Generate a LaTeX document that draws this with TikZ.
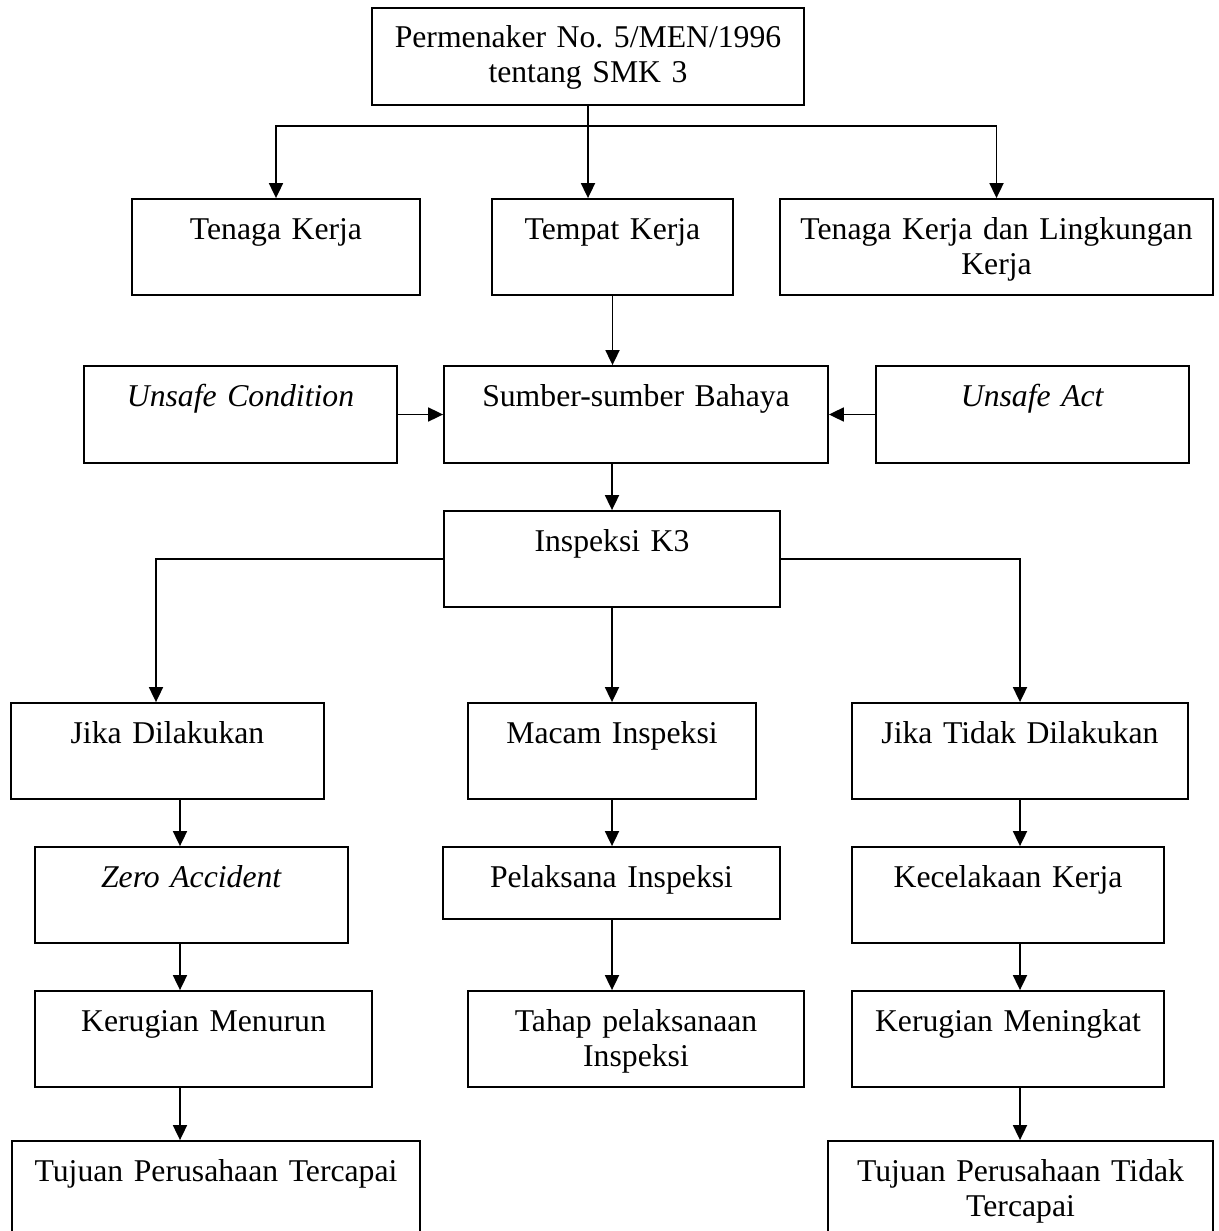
\documentclass[tikz,border=0pt]{standalone}
\usepackage{fontspec}
\setmainfont{Liberation Serif}
\usetikzlibrary{arrows.meta}
\frenchspacing

\begin{document}
\begin{tikzpicture}[x=1pt, y=-1pt, line width=1.8pt,
    >={Triangle[width=14pt,length=15pt]},
    kotak/.style={draw, rectangle, inner sep=0pt, align=center,
        text height=40pt, font=\fontsize{31.7}{35}\selectfont}]
    \useasboundingbox (0,0) rectangle (1218,1231);
    \clip (0,0) rectangle (1218,1231);

    % Dasar hukum
    \node[kotak, text width=432pt, text depth=57pt] (atas) at (588, 56.5) {Permenaker No. 5/MEN/1996\\tentang SMK 3};

    % Sasaran
    \node[kotak, text width=288pt, text depth=56pt] (tenaga) at (276, 247) {Tenaga Kerja};
    \node[kotak, text width=241pt, text depth=56pt] (tempat) at (612.5, 247) {Tempat Kerja};
    \node[kotak, text width=433pt, text depth=56pt] (lingkungan) at (996.5, 247) {Tenaga Kerja dan Lingkungan\\Kerja};

    % Sumber bahaya
    \node[kotak, text width=313pt, text depth=57pt] (kondisi) at (240.5, 414.5) {\textit{Unsafe Condition}};
    \node[kotak, text width=384pt, text depth=57pt] (sumber) at (636, 414.5) {Sumber-sumber Bahaya};
    \node[kotak, text width=313pt, text depth=57pt] (tindakan) at (1032.5, 414.5) {\textit{Unsafe Act}};

    % Inspeksi
    \node[kotak, text width=336pt, text depth=56pt] (inspeksi) at (612, 559) {Inspeksi K3};

    % Cabang
    \node[kotak, text width=313pt, text depth=56pt] (jika) at (167.5, 751) {Jika Dilakukan};
    \node[kotak, text width=288pt, text depth=56pt] (macam) at (612, 751) {Macam Inspeksi};
    \node[kotak, text width=336pt, text depth=56pt] (jikatidak) at (1020, 751) {Jika Tidak Dilakukan};

    \node[kotak, text width=313pt, text depth=56pt] (zero) at (191.5, 895) {\textit{Zero Accident}};
    \node[kotak, text width=337pt, text depth=32pt] (pelaksana) at (611.5, 883) {Pelaksana Inspeksi};
    \node[kotak, text width=312pt, text depth=56pt] (kecelakaan) at (1008, 895) {Kecelakaan Kerja};

    \node[kotak, text width=337pt, text depth=56pt] (menurun) at (203.5, 1039) {Kerugian Menurun};
    \node[kotak, text width=336pt, text depth=56pt] (tahap) at (636, 1039) {Tahap pelaksanaan\\Inspeksi};
    \node[kotak, text width=312pt, text depth=56pt] (meningkat) at (1008, 1039) {Kerugian Meningkat};

    % Hasil akhir
    \node[kotak, text width=408pt, text depth=60pt] (tercapai) at (216, 1191) {Tujuan Perusahaan Tercapai};
    \node[kotak, text width=385pt, text depth=60pt] (tidaktercapai) at (1020.5, 1191) {Tujuan Perusahaan Tidak\\Tercapai};

    % Titik bantu
    \coordinate (cabang) at (588, 126);
    \coordinate (kiri) at (180, 0);
    \coordinate (tengah) at (612, 0);
    \coordinate (kanan) at (1020, 0);

    % Panah
    \draw (atas.south) -- (cabang);
    \draw[->] (cabang) -| (tenaga.north);
    \draw[->] (cabang) -- (cabang |- tempat.north);
    \draw[->] (cabang) -| (lingkungan.north);

    \draw[->] (tempat.south) -- (tempat.south |- sumber.north);
    \draw[->] (kondisi.east) -- (sumber.west);
    \draw[->] (tindakan.west) -- (sumber.east);
    \draw[->] (tengah |- sumber.south) -- (tengah |- inspeksi.north);

    \draw[->] (inspeksi.west) -| ([xshift=-11.5pt]jika.north);
    \draw[->] (inspeksi.south) -- (macam.north);
    \draw[->] (inspeksi.east) -| (jikatidak.north);

    \draw[->] (kiri |- jika.south) -- (kiri |- zero.north);
    \draw[->] (kiri |- zero.south) -- (kiri |- menurun.north);
    \draw[->] (kiri |- menurun.south) -- (kiri |- tercapai.north);

    \draw[->] (tengah |- macam.south) -- (tengah |- pelaksana.north);
    \draw[->] (tengah |- pelaksana.south) -- (tengah |- tahap.north);

    \draw[->] (kanan |- jikatidak.south) -- (kanan |- kecelakaan.north);
    \draw[->] (kanan |- kecelakaan.south) -- (kanan |- meningkat.north);
    \draw[->] (kanan |- meningkat.south) -- (kanan |- tidaktercapai.north);
\end{tikzpicture}
\end{document}
